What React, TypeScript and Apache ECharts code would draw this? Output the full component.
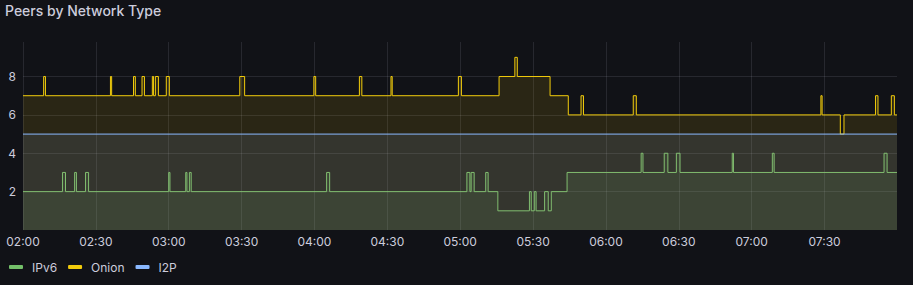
import React, { useEffect, useRef } from "react";
import * as echarts from "echarts";

const TITLE = "Peers by Network Type";
const START = "02:00:00";
const END = "07:59:50";
const X_TICK_MINUTES = [0, 30, 60, 90, 120, 150, 180, 210, 240, 270, 300, 330];
const Y_TICKS = [2, 4, 6, 8];

const seriesNames = ["IPv6", "Onion", "I2P"];
const seriesColors = ["#73BF69", "#F2CC0C", "#8AB8FF"];

const ipv6Times = [
  "02:00:00", "02:16:15", "02:17:30", "02:21:15", "02:22:00", "02:25:45", "02:27:00",
  "03:00:00", "03:00:30", "03:07:00", "03:07:30", "03:08:30", "03:09:15",
  "04:05:00", "04:06:15", "05:02:45", "05:04:00", "05:04:30", "05:05:45",
  "05:10:30", "05:11:30", "05:15:30", "05:28:30", "05:29:15", "05:30:30", "05:31:15",
  "05:34:45", "05:36:15", "05:37:30", "05:44:00", "06:14:30", "06:15:15",
  "06:24:00", "06:25:30", "06:29:00", "06:30:30", "06:52:00", "06:52:30",
  "07:08:30", "07:09:15", "07:54:30", "07:55:45", "07:59:50",
];
const ipv6Values = [
  2, 3, 2, 3, 2, 3, 2,
  3, 2, 3, 2, 3, 2,
  3, 2, 3, 2, 3, 2,
  3, 2, 1, 2, 1, 2, 1,
  2, 1, 2, 3, 4, 3,
  4, 3, 4, 3, 4, 3,
  4, 3, 4, 3, 3,
];

const onionTimes = [
  "02:00:00", "02:08:30", "02:09:15", "02:36:00", "02:36:30", "02:45:30", "02:46:15",
  "02:49:00", "02:50:00", "02:53:15", "02:53:45", "02:54:30", "02:55:45",
  "02:59:00", "03:00:15", "03:29:15", "03:31:15", "03:59:45", "04:00:30",
  "04:18:30", "04:19:30", "04:31:30", "04:32:00", "04:59:15", "05:00:30",
  "05:16:00", "05:22:30", "05:23:30", "05:37:00", "05:44:30", "05:49:45", "05:50:45",
  "06:11:15", "06:12:30", "07:28:30", "07:29:00", "07:36:30", "07:38:00",
  "07:51:00", "07:52:00", "07:57:30", "07:58:45", "07:59:50",
];
const onionValues = [
  7, 8, 7, 8, 7, 8, 7,
  8, 7, 8, 7, 8, 7,
  8, 7, 8, 7, 8, 7,
  8, 7, 8, 7, 8, 7,
  8, 9, 8, 7, 6, 7, 6,
  7, 6, 7, 6, 5, 6,
  7, 6, 7, 6, 6,
];

const i2pTimes = ["02:00:00", "07:59:50"];
const i2pValues = [5, 5];

function toMinutes(t: string): number {
  const [h, m, s] = t.split(":").map(Number);
  const [h0, m0, s0] = START.split(":").map(Number);
  return (h * 60 + m + s / 60) - (h0 * 60 + m0 + s0 / 60);
}

function minutesLabel(v: number): string {
  const [h0, m0] = START.split(":").map(Number);
  const total = h0 * 60 + m0 + v;
  const h = Math.floor(total / 60);
  const m = Math.round(total % 60);
  return `${String(h).padStart(2, "0")}:${String(m).padStart(2, "0")}`;
}

function pairs(times: string[], values: number[]) {
  return times.map((t, i) => [toMinutes(t), values[i]]);
}

export default function App() {
  const ref = useRef<HTMLDivElement>(null);
  useEffect(() => {
    document.body.style.margin = "0";
    document.body.style.background = "#111217";
    if (!ref.current) return;
    const chart = echarts.init(ref.current, null, { renderer: "svg" });
    const datasets = [
      pairs(ipv6Times, ipv6Values),
      pairs(onionTimes, onionValues),
      pairs(i2pTimes, i2pValues),
    ];
    const textColor = "#ccccdc";
    const font = "Inter";
    chart.setOption({
      animation: false,
      backgroundColor: "#111217",
      title: {
        text: TITLE,
        left: 5,
        top: 3,
        padding: 0,
        textStyle: { color: textColor, fontSize: 14, fontWeight: 500, fontFamily: font },
      },
      legend: {
        data: seriesNames,
        left: 9,
        top: 261,
        padding: 0,
        icon: "roundRect",
        itemWidth: 14,
        itemHeight: 4,
        itemGap: 11,
        textStyle: { color: textColor, fontSize: 12, fontFamily: font, padding: [0, 0, 0, 4] },
      },
      grid: { left: 23, right: 16, top: 42, bottom: 55 },
      xAxis: {
        type: "value",
        min: 0,
        max: toMinutes(END),
        interval: 30,
        axisLine: { show: false },
        axisTick: { show: false },
        axisLabel: {
          color: textColor,
          fontSize: 12,
          fontFamily: font,
          margin: 5,
          showMaxLabel: false,
          formatter: (v: number) => (X_TICK_MINUTES.includes(Math.round(v * 1000) / 1000) ? minutesLabel(v) : ""),
        },
        splitLine: {
          show: true,
          showMaxLine: false,
          lineStyle: { color: "rgba(204,204,220,0.12)", width: 1 },
        },
      },
      yAxis: {
        type: "value",
        min: 0,
        max: 9.8,
        interval: 2,
        axisLine: { show: false },
        axisTick: { show: false },
        axisLabel: {
          color: textColor,
          fontSize: 12,
          fontFamily: font,
          margin: 7,
          formatter: (v: number) => (Y_TICKS.includes(v) ? String(v) : ""),
        },
        splitLine: {
          show: true,
          showMinLine: false,
          showMaxLine: false,
          lineStyle: { color: "rgba(204,204,220,0.12)", width: 1 },
        },
      },
      series: seriesNames.map((name, i) => ({
        name,
        type: "line",
        step: "end",
        data: datasets[i],
        color: seriesColors[i],
        showSymbol: false,
        symbol: "none",
        lineStyle: { width: 1, color: seriesColors[i] },
        areaStyle: { color: seriesColors[i], opacity: 0.11, origin: 0 },
        z: 2 + i,
      })),
    });
    return () => chart.dispose();
  }, []);
  return <div ref={ref} style={{ width: 913, height: 285 }} />;
}
